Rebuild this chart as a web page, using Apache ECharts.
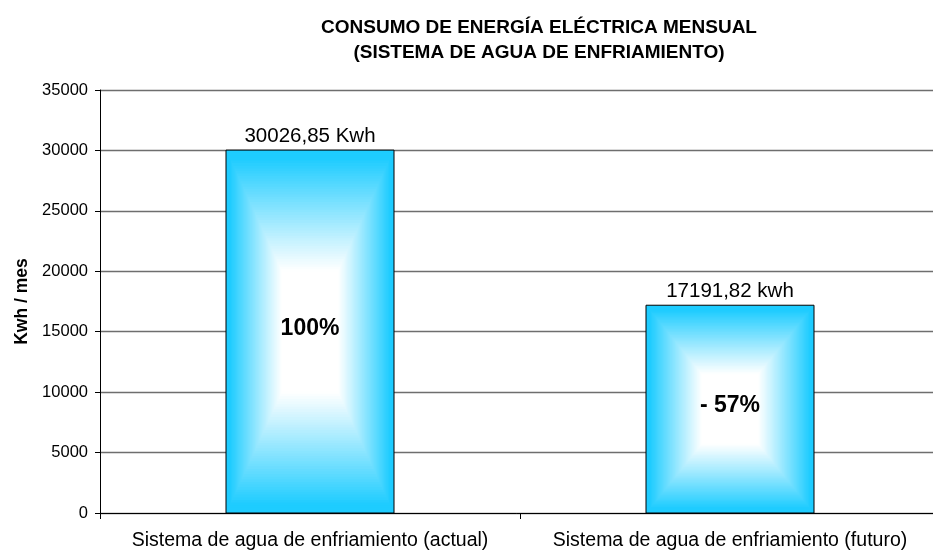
<!DOCTYPE html>
<html>
<head>
<meta charset="utf-8">
<script src="https://cdn.jsdelivr.net/npm/echarts@6/dist/echarts.min.js"></script>
<style>
  html, body { margin: 0; padding: 0; background: #fff; }
  #chart { width: 933px; height: 551px; }
</style>
</head>
<body>
<div id="chart"></div>
<script>
// Monthly electric energy use of the cooling-water system
const categories = [
  'Sistema de agua de enfriamiento (actual)',
  'Sistema de agua de enfriamiento (futuro)'
];
const consumo = [30026.85, 17191.82];
const unidades = ['Kwh', 'kwh'];
const porcentajes = ['100%', '- 57%'];
const yTicks = [0, 5000, 10000, 15000, 20000, 25000, 30000, 35000];

const FONT = '"Liberation Sans", Arial, Helvetica, sans-serif';
const EDGE = [30, 204, 255];   // cyan at the bar border
const CENTER = [255, 255, 255];

// Colour of the "from centre" rectangular gradient at relative distance t (0 = centre, 1 = edge)
function shade(t) {
  let k = (t - 0.34) / 0.62;
  k = Math.max(0, Math.min(1, k));
  k = Math.pow(k, 1.05);
  const c = CENTER.map((v, i) => Math.round(v + (EDGE[i] - v) * k));
  return 'rgb(' + c.join(',') + ')';
}

function fmt(v) {
  return v.toFixed(2).replace('.', ',');
}

const chart = echarts.init(document.getElementById('chart'), null, { renderer: 'canvas' });

chart.setOption({
  animation: false,
  backgroundColor: '#ffffff',
  title: {
    text: 'CONSUMO DE ENERGÍA ELÉCTRICA MENSUAL\n(SISTEMA DE AGUA DE ENFRIAMIENTO)',
    left: 534,
    top: 10,
    textAlign: 'center',
    textStyle: {
      fontFamily: FONT,
      fontWeight: 'bold',
      fontSize: 19,
      lineHeight: 25,
      color: '#000'
    }
  },
  // plot area runs slightly past the right edge of the canvas
  grid: {
    left: 100, width: 840, top: 90, bottom: 38,
    containLabel: false, outerBoundsMode: 'none'
  },
  xAxis: {
    type: 'category',
    data: categories,
    boundaryGap: true,
    axisLine: { show: true, lineStyle: { color: '#000', width: 1 } },
    axisTick: { show: true, alignWithLabel: false, length: 6, lineStyle: { color: '#000' } },
    axisLabel: { fontFamily: FONT, fontSize: 19.5, color: '#000', margin: 18, interval: 0 },
    splitLine: { show: false }
  },
  yAxis: {
    type: 'value',
    min: yTicks[0],
    max: yTicks[yTicks.length - 1],
    interval: yTicks[1] - yTicks[0],
    name: 'Kwh / mes',
    nameLocation: 'middle',
    nameGap: 60,
    nameRotate: 90,
    nameTextStyle: { fontFamily: FONT, fontWeight: 'bold', fontSize: 17.5, color: '#000' },
    axisLine: { show: true, lineStyle: { color: '#000', width: 1 } },
    axisTick: { show: true, inside: false, length: 5, lineStyle: { color: '#000' } },
    axisLabel: {
      fontFamily: FONT, fontSize: 16.5, color: '#000', margin: 12,
      formatter: function (v) { return String(v); }
    },
    splitLine: { show: true, lineStyle: { color: '#6e6e6e', width: 1.4 } }
  },
  series: [{
    type: 'custom',
    data: consumo.map((v, i) => [i, v]),
    encode: { x: 0, y: 1 },
    renderItem: function (params, api) {
      const i = params.dataIndex;
      const top = api.coord([api.value(0), api.value(1)]);
      const base = api.coord([api.value(0), 0]);
      const bw = api.size([1, 0])[0] * 0.4;
      const h = base[1] - top[1];
      const cx = top[0];
      const cy = top[1] + h / 2;
      const children = [];
      const steps = 70;
      for (let s = 0; s < steps; s++) {
        const t = 1 - s / steps;
        children.push({
          type: 'rect',
          shape: { x: cx - t * bw / 2, y: cy - t * h / 2, width: t * bw, height: t * h },
          style: { fill: shade(t) },
          silent: true
        });
      }
      children.push({
        type: 'rect',
        shape: { x: cx - bw / 2, y: top[1], width: bw, height: h },
        style: { fill: 'none', stroke: '#000', lineWidth: 1 }
      });
      children.push({
        type: 'text',
        style: {
          text: fmt(consumo[i]) + ' ' + unidades[i],
          x: cx, y: top[1] - 3,
          align: 'center', verticalAlign: 'bottom',
          font: '20.5px ' + FONT, fill: '#000'
        }
      });
      children.push({
        type: 'text',
        style: {
          text: porcentajes[i],
          x: cx, y: cy - 3,
          align: 'center', verticalAlign: 'middle',
          font: 'bold 23px ' + FONT, fill: '#000'
        }
      });
      return { type: 'group', children: children };
    }
  }]
});
</script>
</body>
</html>
